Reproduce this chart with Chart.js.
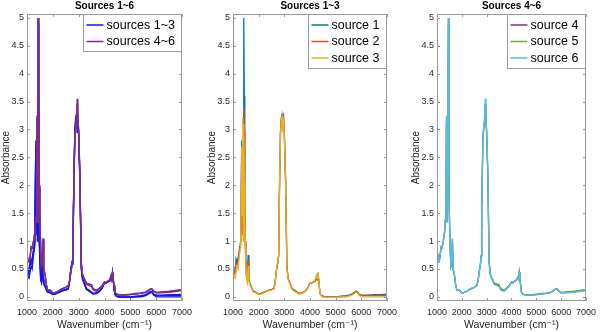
<!DOCTYPE html>
<html>
<head>
<meta charset="utf-8">
<script src="https://cdn.jsdelivr.net/npm/chart.js@4"></script>
<style>
  body { margin: 0; background: #fff; }
  #wrap { position: relative; width: 602px; height: 332px; }
  canvas { position: absolute; top: 0; }
</style>
</head>
<body>
<div id="wrap">
  <canvas id="panel1" width="200" height="332" style="left:0px"></canvas>
  <canvas id="panel2" width="200" height="332" style="left:206px"></canvas>
  <canvas id="panel3" width="192" height="332" style="left:410px"></canvas>
</div>
<script>
// wavenumber axis (cm^-1), shared by every spectrum
const wavenumber = [1000, 1040, 1080, 1120, 1160, 1200, 1250, 1300, 1340, 1360,
  1380, 1400, 1420, 1440, 1460, 1480, 1500, 1530, 1560, 1590,
  1620, 1650, 1700, 1750, 1800, 1900, 2000, 2100, 2200, 2300,
  2400, 2500, 2600, 2650, 2700, 2750, 2780, 2800, 2850, 2880,
  2910, 2940, 2970, 3000, 3050, 3100, 3150, 3200, 3300, 3400,
  3500, 3550, 3600, 3700, 3800, 3900, 4000, 4050, 4100, 4150,
  4200, 4250, 4280, 4310, 4340, 4370, 4400, 4450, 4500, 4600,
  4800, 5000, 5200, 5400, 5600, 5700, 5800, 5850, 5900, 6000,
  6200, 6500, 6800, 7000];

// absorbance
const source1 = [0.62, 0.48, 0.45, 0.68, 0.62, 0.70, 0.85, 1.00, 2.80, 1.60,
  1.20, 2.50, 5.00, 3.60, 1.80, 1.00, 0.70, 0.35, 0.30, 0.75,
  0.35, 0.25, 0.20, 0.14, 0.10, 0.08, 0.05, 0.06, 0.08, 0.10,
  0.12, 0.13, 0.15, 0.30, 0.50, 0.62, 0.74, 1.60, 2.95, 3.20,
  3.25, 3.20, 3.25, 2.95, 2.10, 0.55, 0.33, 0.27, 0.15, 0.12,
  0.08, 0.06, 0.06, 0.07, 0.10, 0.15, 0.25, 0.24, 0.26, 0.27,
  0.28, 0.35, 0.30, 0.42, 0.30, 0.15, 0.05, 0.02, 0.01, 0.00,
  0.00, 0.00, 0.01, 0.02, 0.04, 0.07, 0.10, 0.09, 0.05, 0.03,
  0.03, 0.04, 0.04, 0.05];
const source2 = [0.55, 0.42, 0.40, 0.60, 0.58, 0.62, 0.80, 0.95, 2.60, 1.50,
  1.10, 2.30, 3.40, 3.00, 1.60, 0.95, 0.65, 0.33, 0.28, 0.65,
  0.32, 0.24, 0.19, 0.13, 0.09, 0.08, 0.05, 0.06, 0.08, 0.10,
  0.12, 0.13, 0.15, 0.30, 0.50, 0.63, 0.75, 1.65, 2.95, 3.15,
  3.25, 3.10, 3.20, 2.90, 2.05, 0.52, 0.32, 0.26, 0.14, 0.11,
  0.08, 0.06, 0.06, 0.07, 0.10, 0.15, 0.25, 0.24, 0.26, 0.27,
  0.28, 0.36, 0.31, 0.43, 0.30, 0.15, 0.05, 0.02, 0.01, 0.00,
  0.00, 0.00, 0.00, 0.01, 0.03, 0.06, 0.09, 0.08, 0.04, 0.02,
  0.02, 0.02, 0.02, 0.02];
const source3 = [0.50, 0.35, 0.33, 0.45, 0.55, 0.50, 0.75, 0.90, 2.70, 1.45,
  3.20, 1.00, 3.10, 2.00, 1.40, 0.90, 0.60, 0.30, 0.25, 0.55,
  0.30, 0.22, 0.18, 0.12, 0.08, 0.07, 0.04, 0.05, 0.07, 0.09,
  0.11, 0.12, 0.14, 0.30, 0.52, 0.65, 0.76, 1.70, 2.90, 3.10,
  3.25, 2.95, 3.20, 2.85, 2.00, 0.50, 0.31, 0.25, 0.13, 0.10,
  0.07, 0.05, 0.05, 0.06, 0.09, 0.14, 0.26, 0.25, 0.27, 0.28,
  0.30, 0.38, 0.33, 0.45, 0.32, 0.16, 0.04, 0.01, 0.00, -0.01,
  -0.01, -0.01, 0.00, 0.00, 0.02, 0.05, 0.08, 0.07, 0.03, 0.00,
  0.00, 0.00, 0.00, 0.00];
const source4 = [0.77, 0.65, 0.63, 0.71, 0.89, 0.88, 0.99, 1.14, 1.39, 1.44,
  3.20, 1.34, 2.15, 3.50, 5.00, 1.98, 1.44, 0.89, 0.55, 0.59,
  1.03, 0.50, 0.40, 0.22, 0.12, 0.12, 0.07, 0.08, 0.10, 0.13,
  0.15, 0.17, 0.20, 0.28, 0.45, 0.59, 0.74, 1.58, 2.85, 3.02,
  3.12, 3.45, 3.20, 2.95, 2.15, 0.62, 0.40, 0.34, 0.24, 0.22,
  0.21, 0.15, 0.13, 0.11, 0.15, 0.19, 0.26, 0.25, 0.27, 0.28,
  0.30, 0.35, 0.32, 0.44, 0.30, 0.20, 0.08, 0.05, 0.04, 0.03,
  0.03, 0.04, 0.05, 0.06, 0.08, 0.11, 0.14, 0.13, 0.10, 0.07,
  0.08, 0.09, 0.11, 0.12];
const source5 = [0.76, 0.64, 0.62, 0.70, 0.88, 0.87, 0.98, 1.13, 1.38, 1.42,
  3.10, 1.33, 2.10, 3.40, 4.90, 1.95, 1.42, 0.88, 0.54, 0.58,
  1.00, 0.49, 0.39, 0.22, 0.12, 0.12, 0.07, 0.08, 0.10, 0.13,
  0.15, 0.17, 0.20, 0.28, 0.44, 0.58, 0.73, 1.55, 2.80, 3.00,
  3.10, 3.30, 3.10, 2.90, 2.10, 0.62, 0.41, 0.35, 0.25, 0.23,
  0.22, 0.16, 0.14, 0.12, 0.16, 0.20, 0.27, 0.26, 0.28, 0.29,
  0.31, 0.36, 0.33, 0.43, 0.31, 0.21, 0.09, 0.06, 0.05, 0.04,
  0.04, 0.05, 0.06, 0.07, 0.09, 0.12, 0.15, 0.14, 0.11, 0.08,
  0.09, 0.10, 0.12, 0.13];
const source6 = [0.78, 0.65, 0.63, 0.72, 0.90, 0.88, 1.00, 1.15, 1.40, 1.45,
  3.25, 1.35, 2.20, 3.60, 5.00, 2.00, 1.45, 0.90, 0.55, 0.60,
  1.05, 0.50, 0.40, 0.22, 0.12, 0.12, 0.07, 0.08, 0.10, 0.13,
  0.15, 0.17, 0.20, 0.28, 0.45, 0.60, 0.75, 1.60, 2.90, 3.05,
  3.15, 3.55, 3.25, 3.00, 2.20, 0.60, 0.38, 0.33, 0.22, 0.20,
  0.18, 0.13, 0.11, 0.10, 0.14, 0.18, 0.26, 0.25, 0.27, 0.28,
  0.30, 0.35, 0.32, 0.45, 0.30, 0.20, 0.08, 0.05, 0.04, 0.03,
  0.03, 0.04, 0.05, 0.06, 0.08, 0.11, 0.14, 0.13, 0.10, 0.07,
  0.07, 0.08, 0.10, 0.11];

const xTicks = [1000, 2000, 3000, 4000, 5000, 6000, 7000];
const yTicks = [0, 0.5, 1, 1.5, 2, 2.5, 3, 3.5, 4, 4.5, 5];

const FONT = '"Liberation Sans", Arial, "DejaVu Sans", sans-serif';
const AXIS_GREY = '#9a9a9a';

function points(vals) {
    return wavenumber.map((w, i) => ({ x: w, y: vals[i] }));
}

function line(label, vals, color, inLegend) {
    return {
        label: label,
        data: points(vals),
        borderColor: color,
        borderWidth: 1.3,
        pointRadius: 0,
        tension: 0,
        inLegend: inLegend
    };
}

// box round the axes with inward ticks, as matlab draws it
const matlabBox = {
    id: 'matlabBox',
    afterDatasetsDraw(chart) {
        const { ctx, chartArea: a, scales: { x, y } } = chart;
        ctx.save();
        ctx.strokeStyle = AXIS_GREY;
        ctx.lineWidth = 1;
        ctx.beginPath();
        xTicks.forEach(v => {
            const px = Math.round(x.getPixelForValue(v)) + 0.5;
            ctx.moveTo(px, a.bottom); ctx.lineTo(px, a.bottom - 3);
            ctx.moveTo(px, a.top); ctx.lineTo(px, a.top + 3);
        });
        yTicks.forEach(v => {
            const py = Math.round(y.getPixelForValue(v)) + 0.5;
            ctx.moveTo(a.left, py); ctx.lineTo(a.left + 3, py);
            ctx.moveTo(a.right, py); ctx.lineTo(a.right - 3, py);
        });
        ctx.stroke();
        ctx.strokeRect(a.left + 0.5, a.top + 0.5, a.right - a.left - 1, a.bottom - a.top - 1);
        ctx.restore();
    }
};

// legend box in the top right corner of the axes
const boxLegend = {
    id: 'boxLegend',
    afterDraw(chart) {
        const items = chart.data.datasets.filter(d => d.inLegend);
        const { ctx, chartArea: a } = chart;
        ctx.save();
        ctx.font = '12.5px ' + FONT;
        const textW = Math.max(...items.map(d => ctx.measureText(d.label).width));
        const w = Math.round(23 + textW + 8);
        const h = Math.round(items.length * 16.5 + 4);
        const left = Math.round(a.right - w) + 0.5;
        const top = a.top + 0.5;
        ctx.fillStyle = '#fff';
        ctx.fillRect(left, top, w - 1, h);
        ctx.strokeStyle = AXIS_GREY;
        ctx.lineWidth = 1;
        ctx.strokeRect(left, top, w - 1, h);
        items.forEach((d, i) => {
            const cy = a.top + 11 + i * 16.5;
            ctx.strokeStyle = d.borderColor;
            ctx.lineWidth = 1.5;
            ctx.beginPath();
            ctx.moveTo(left + 3, cy);
            ctx.lineTo(left + 20, cy);
            ctx.stroke();
            ctx.fillStyle = '#000';
            ctx.textBaseline = 'middle';
            ctx.textAlign = 'left';
            ctx.fillText(d.label, left + 23, cy + 0.5);
        });
        ctx.restore();
    }
};

function drawPanel(canvasId, title, datasets, padRight) {
    const ctx = document.getElementById(canvasId).getContext('2d');
    // later series are drawn on top, like matlab's hold on
    datasets.forEach((d, i) => { d.order = datasets.length - i; });
    return new Chart(ctx, {
        type: 'line',
        data: { datasets: datasets },
        plugins: [matlabBox, boxLegend],
        options: {
            responsive: false,
            animation: false,
            events: [],
            layout: { padding: { top: 0, right: padRight, bottom: 0, left: 0 } },
            plugins: {
                legend: { display: false },
                tooltip: { enabled: false },
                title: {
                    display: true,
                    text: title,
                    fullSize: false,
                    color: '#000',
                    font: { family: FONT, size: 10, weight: 'bold' },
                    padding: { top: 0, bottom: 2 }
                }
            },
            scales: {
                x: {
                    type: 'linear',
                    min: 1000,
                    max: 7000,
                    grid: { display: false, drawTicks: false },
                    border: { display: false },
                    ticks: {
                        stepSize: 1000,
                        autoSkip: false,
                        maxRotation: 0,
                        padding: 6,
                        color: '#262626',
                        font: { family: FONT, size: 9 },
                        callback: v => String(v)
                    },
                    title: {
                        display: true,
                        text: 'Wavenumber (cm⁻¹)',
                        color: '#262626',
                        font: { family: FONT, size: 10.5 },
                        padding: { top: 0, bottom: 1 }
                    },
                    afterFit: s => { s.height = 31; }
                },
                y: {
                    type: 'linear',
                    min: -0.075,
                    max: 5.07,
                    grid: { display: false, drawTicks: false },
                    border: { display: false },
                    ticks: {
                        stepSize: 0.5,
                        includeBounds: false,
                        padding: 3,
                        color: '#262626',
                        font: { family: FONT, size: 9 },
                        callback: v => String(Number(v.toFixed(1)))
                    },
                    title: {
                        display: true,
                        text: 'Absorbance',
                        color: '#262626',
                        font: { family: FONT, size: 10 },
                        padding: { top: 0, bottom: 0 }
                    },
                    afterFit: s => { s.width = 27; }
                }
            }
        }
    });
}

const BLUE = 'rgb(20,20,245)';
const PURPLE = '#7E2F8E';

window.panel1 = drawPanel('panel1', 'Sources 1~6', [
    line('sources 1~3', source1, BLUE, true),
    line('source 2', source2, BLUE, false),
    line('source 3', source3, BLUE, false),
    line('sources 4~6', source4, PURPLE, true),
    line('source 5', source5, PURPLE, false),
    line('source 6', source6, PURPLE, false)
], 18);

window.panel2 = drawPanel('panel2', 'Sources 1~3', [
    line('source 1', source1, '#0072BD', true),
    line('source 2', source2, '#D95319', true),
    line('source 3', source3, '#EDB120', true)
], 19);

window.panel3 = drawPanel('panel3', 'Sources 4~6', [
    line('source 4', source4, '#7E2F8E', true),
    line('source 5', source5, '#77AC30', true),
    line('source 6', source6, '#4DBEEE', true)
], 10);
</script>
</body>
</html>
